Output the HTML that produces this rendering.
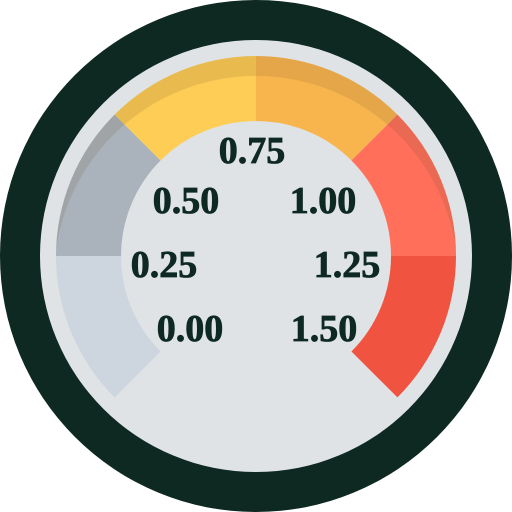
<!DOCTYPE html>
<html><head><meta charset="utf-8"><style>
body{margin:0;background:#fff}
svg{display:block}
text{font-family:"Liberation Serif",serif;font-weight:bold;font-size:38px;fill:#0e2822;stroke:#0e2822;stroke-width:0.8px;text-anchor:middle}
</style></head><body>
<svg id="g" width="512" height="512" viewBox="0 0 512 512">
<defs><clipPath id="shclip"><path clip-rule="evenodd" d="M0,0H512V512H0Z M54,278a202,202 0 1,0 404,0a202,202 0 1,0 -404,0Z"/></clipPath></defs>
<circle cx="256" cy="256" r="256" fill="#0e2822"/>
<circle cx="256" cy="256" r="216" fill="#dfe3e5"/>
<g id="segs"></g>
<g id="labs"></g>
</svg>
<script>
const segmentColors=["#cdd5de","#aab2bb","#fecd56","#f8b54d","#ff6f5a","#f05340"];
const tickLabels=["0.00","0.25","0.50","0.75","1.00","1.25","1.50"];
const labelPos=[[190,341],[164,277],[186,213],[252,163],[323,213],[347,277],[324,341]];
const cx=256,cy=256,R=200,r=135,start=-135,span=270;
const NS="http://www.w3.org/2000/svg";
function pt(a,rad){const t=(a-90)*Math.PI/180;return [cx+rad*Math.cos(t),cy+rad*Math.sin(t)];}
function arc(a0,a1,ro,ri){const p0=pt(a0,ro),p1=pt(a1,ro),p2=pt(a1,ri),p3=pt(a0,ri);const l=(a1-a0)>180?1:0;
return `M${p0}A${ro},${ro} 0 ${l} 1 ${p1}L${p2}A${ri},${ri} 0 ${l} 0 ${p3}Z`;}
const segs=document.getElementById('segs');
const step=span/segmentColors.length;
segmentColors.forEach((c,i)=>{const p=document.createElementNS(NS,'path');
p.setAttribute('d',arc(start+i*step,start+(i+1)*step,R,r));p.setAttribute('fill',c);


segs.appendChild(p);});
const sh=document.createElementNS(NS,'path');
sh.setAttribute('d',arc(-90,90,R,r));sh.setAttribute('fill','rgba(90,70,40,0.13)');
sh.setAttribute('clip-path','url(#shclip)');


segs.appendChild(sh);
const labs=document.getElementById('labs');
tickLabels.forEach((t,i)=>{const e=document.createElementNS(NS,'text');
e.setAttribute('x',labelPos[i][0]);e.setAttribute('y',labelPos[i][1]);e.textContent=t;


labs.appendChild(e);});
</script>
</body></html>
